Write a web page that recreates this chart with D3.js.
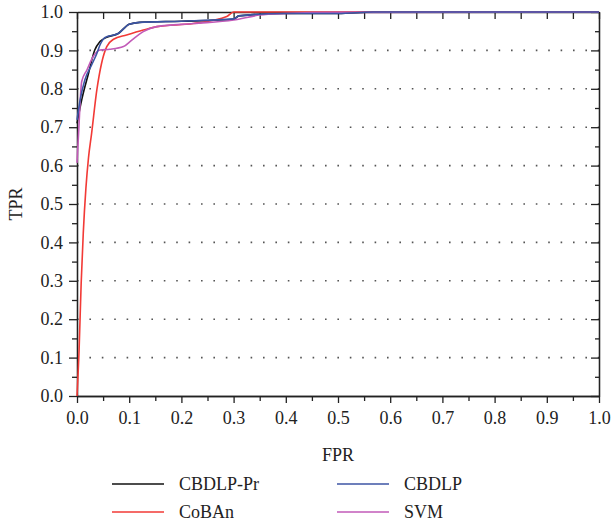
<!DOCTYPE html>
<html>
<head>
<meta charset="utf-8">
<script src="https://cdn.jsdelivr.net/npm/d3@7"></script>
<style>
    body { margin: 0; background: #fff; }
    text { font-family: "Liberation Serif", "DejaVu Serif", serif; fill: #222; }
</style>
</head>
<body>
<div id="roc-chart"></div>
<script>
// ROC curves (FPR, TPR)
var cbdlpPrFpr = [0, 0.009, 0.022, 0.034, 0.044, 0.057, 0.079, 0.1, 0.12, 0.2, 0.3, 0.31, 0.395, 0.5, 0.567, 1.0];
var cbdlpPrTpr = [0.71, 0.771, 0.84, 0.901, 0.923, 0.934, 0.944, 0.968, 0.973, 0.976, 0.981, 0.99, 0.996, 0.996, 1.0, 1.0];

var cbdlpFpr = [0, 0.006, 0.015, 0.028, 0.038, 0.044, 0.054, 0.079, 0.1, 0.12, 0.2, 0.3, 0.31, 0.395, 0.5, 0.567, 1.0];
var cbdlpTpr = [0.719, 0.771, 0.823, 0.862, 0.892, 0.914, 0.934, 0.944, 0.968, 0.973, 0.976, 0.982, 0.99, 0.996, 0.996, 1.0, 1.0];

var cobanFpr = [0, 0.004, 0.008, 0.012, 0.017, 0.022, 0.028, 0.038, 0.047, 0.057, 0.07, 0.095, 0.127, 0.153, 0.223, 0.287, 0.3, 1.0];
var cobanTpr = [0, 0.12, 0.294, 0.424, 0.54, 0.62, 0.684, 0.797, 0.866, 0.91, 0.929, 0.94, 0.953, 0.962, 0.97, 0.988, 1.0, 1.0];

var svmFpr = [0, 0.003, 0.009, 0.019, 0.031, 0.044, 0.063, 0.089, 0.105, 0.127, 0.153, 0.223, 0.3, 0.35, 0.4, 0.5, 1.0];
var svmTpr = [0.607, 0.684, 0.819, 0.849, 0.884, 0.901, 0.903, 0.91, 0.927, 0.949, 0.962, 0.97, 0.979, 0.992, 0.996, 0.999, 1.0];

var seriesNames = ["CBDLP-Pr", "CBDLP", "CoBAn", "SVM"];
var seriesColors = ["#111111", "#3c55a5", "#f23a36", "#c25ab8"];

var tickValues = [0, 0.1, 0.2, 0.3, 0.4, 0.5, 0.6, 0.7, 0.8, 0.9, 1.0];
var minorValues = [0.05, 0.15, 0.25, 0.35, 0.45, 0.55, 0.65, 0.75, 0.85, 0.95];
var gridValues = [0.1, 0.2, 0.3, 0.4, 0.5, 0.6, 0.7, 0.8, 0.9];

// set the dimensions and margins of the graph
var vMargin = { mTop: 12, mRight: 13, mBottom: 129, mLeft: 77 },
    vWidth = 612 - vMargin.mLeft - vMargin.mRight,
    vHeight = 525 - vMargin.mTop - vMargin.mBottom;

var svg = d3.select("#roc-chart")
    .append("svg")
    .attr("width", 612)
    .attr("height", 525);

var plot = svg.append("g")
    .attr("transform", "translate(" + vMargin.mLeft + "," + vMargin.mTop + ")");

var x = d3.scaleLinear().domain([0, 1]).range([0, vWidth]);
var y = d3.scaleLinear().domain([0, 1]).range([vHeight, 0]);

// dotted horizontal grid
plot.append("g")
    .selectAll("line")
    .data(gridValues)
    .enter()
    .append("line")
    .attr("x1", 0)
    .attr("x2", vWidth)
    .attr("y1", function (d) { return y(d); })
    .attr("y2", function (d) { return y(d); })
    .attr("stroke", "#555")
    .attr("stroke-width", 1.6)
    .attr("stroke-dasharray", "1.6,10.8");

// axes
function styleAxis(g) {
    g.selectAll("path, line").attr("stroke", "#222").attr("stroke-width", 1.3);
    g.selectAll("text").style("font-size", "18px").attr("fill", "#222");
}

plot.append("g")
    .attr("transform", "translate(0," + vHeight + ")")
    .call(d3.axisBottom(x).tickValues(tickValues).tickFormat(d3.format(".1f")).tickSize(7).tickSizeOuter(0).tickPadding(8))
    .call(styleAxis);
plot.append("g")
    .attr("transform", "translate(0," + vHeight + ")")
    .call(d3.axisBottom(x).tickValues(minorValues).tickFormat("").tickSize(5).tickSizeOuter(0))
    .call(styleAxis);

plot.append("g")
    .call(d3.axisLeft(y).tickValues(tickValues).tickFormat(d3.format(".1f")).tickSize(8).tickSizeOuter(0).tickPadding(6))
    .call(styleAxis);
plot.append("g")
    .call(d3.axisLeft(y).tickValues(minorValues).tickFormat("").tickSize(5).tickSizeOuter(0))
    .call(styleAxis);

plot.append("g")
    .call(d3.axisTop(x).tickValues(tickValues.concat(minorValues)).tickFormat("").tickSize(-7).tickSizeOuter(0))
    .call(styleAxis);

plot.append("g")
    .attr("transform", "translate(" + vWidth + ",0)")
    .call(d3.axisRight(y).tickValues(tickValues).tickFormat("").tickSize(-8).tickSizeOuter(0))
    .call(styleAxis);
plot.append("g")
    .attr("transform", "translate(" + vWidth + ",0)")
    .call(d3.axisRight(y).tickValues(minorValues).tickFormat("").tickSize(-4).tickSizeOuter(0))
    .call(styleAxis);

// curves (drawn over the frame, as in the figure)
var series = [
    { name: seriesNames[0], fpr: cbdlpPrFpr, tpr: cbdlpPrTpr, color: seriesColors[0] },
    { name: seriesNames[2], fpr: cobanFpr, tpr: cobanTpr, color: seriesColors[2] },
    { name: seriesNames[3], fpr: svmFpr, tpr: svmTpr, color: seriesColors[3] },
    { name: seriesNames[1], fpr: cbdlpFpr, tpr: cbdlpTpr, color: seriesColors[1] }
];

var line = d3.line()
    .x(function (d) { return x(d[0]); })
    .y(function (d) { return y(d[1]); })
    .curve(d3.curveMonotoneX);

series.forEach(function (s) {
    plot.append("path")
        .datum(d3.zip(s.fpr, s.tpr))
        .attr("fill", "none")
        .attr("stroke", s.color)
        .attr("stroke-width", 1.6)
        .attr("d", line);
});

// axis titles
svg.append("text")
    .attr("x", vMargin.mLeft + vWidth / 2)
    .attr("y", 461)
    .attr("text-anchor", "middle")
    .style("font-size", "18px")
    .text("FPR");

svg.append("text")
    .attr("transform", "translate(22," + (vMargin.mTop + vHeight / 2) + ")rotate(-90)")
    .attr("text-anchor", "middle")
    .style("font-size", "18px")
    .text("TPR");

// legend
var legendItems = [
    { name: seriesNames[0], color: seriesColors[0], lx: 112, ly: 484 },
    { name: seriesNames[1], color: seriesColors[1], lx: 337, ly: 484 },
    { name: seriesNames[2], color: seriesColors[2], lx: 112, ly: 512 },
    { name: seriesNames[3], color: seriesColors[3], lx: 337, ly: 512 }
];

var legend = svg.append("g")
    .selectAll("g")
    .data(legendItems)
    .enter()
    .append("g")
    .attr("transform", function (d) { return "translate(" + d.lx + "," + d.ly + ")"; });

legend.append("line")
    .attr("x1", 0)
    .attr("x2", 52)
    .attr("stroke", function (d) { return d.color; })
    .attr("stroke-width", 1.6);

legend.append("text")
    .attr("x", 67)
    .attr("y", 6)
    .style("font-size", "18px")
    .text(function (d) { return d.name; });
</script>
</body>
</html>
